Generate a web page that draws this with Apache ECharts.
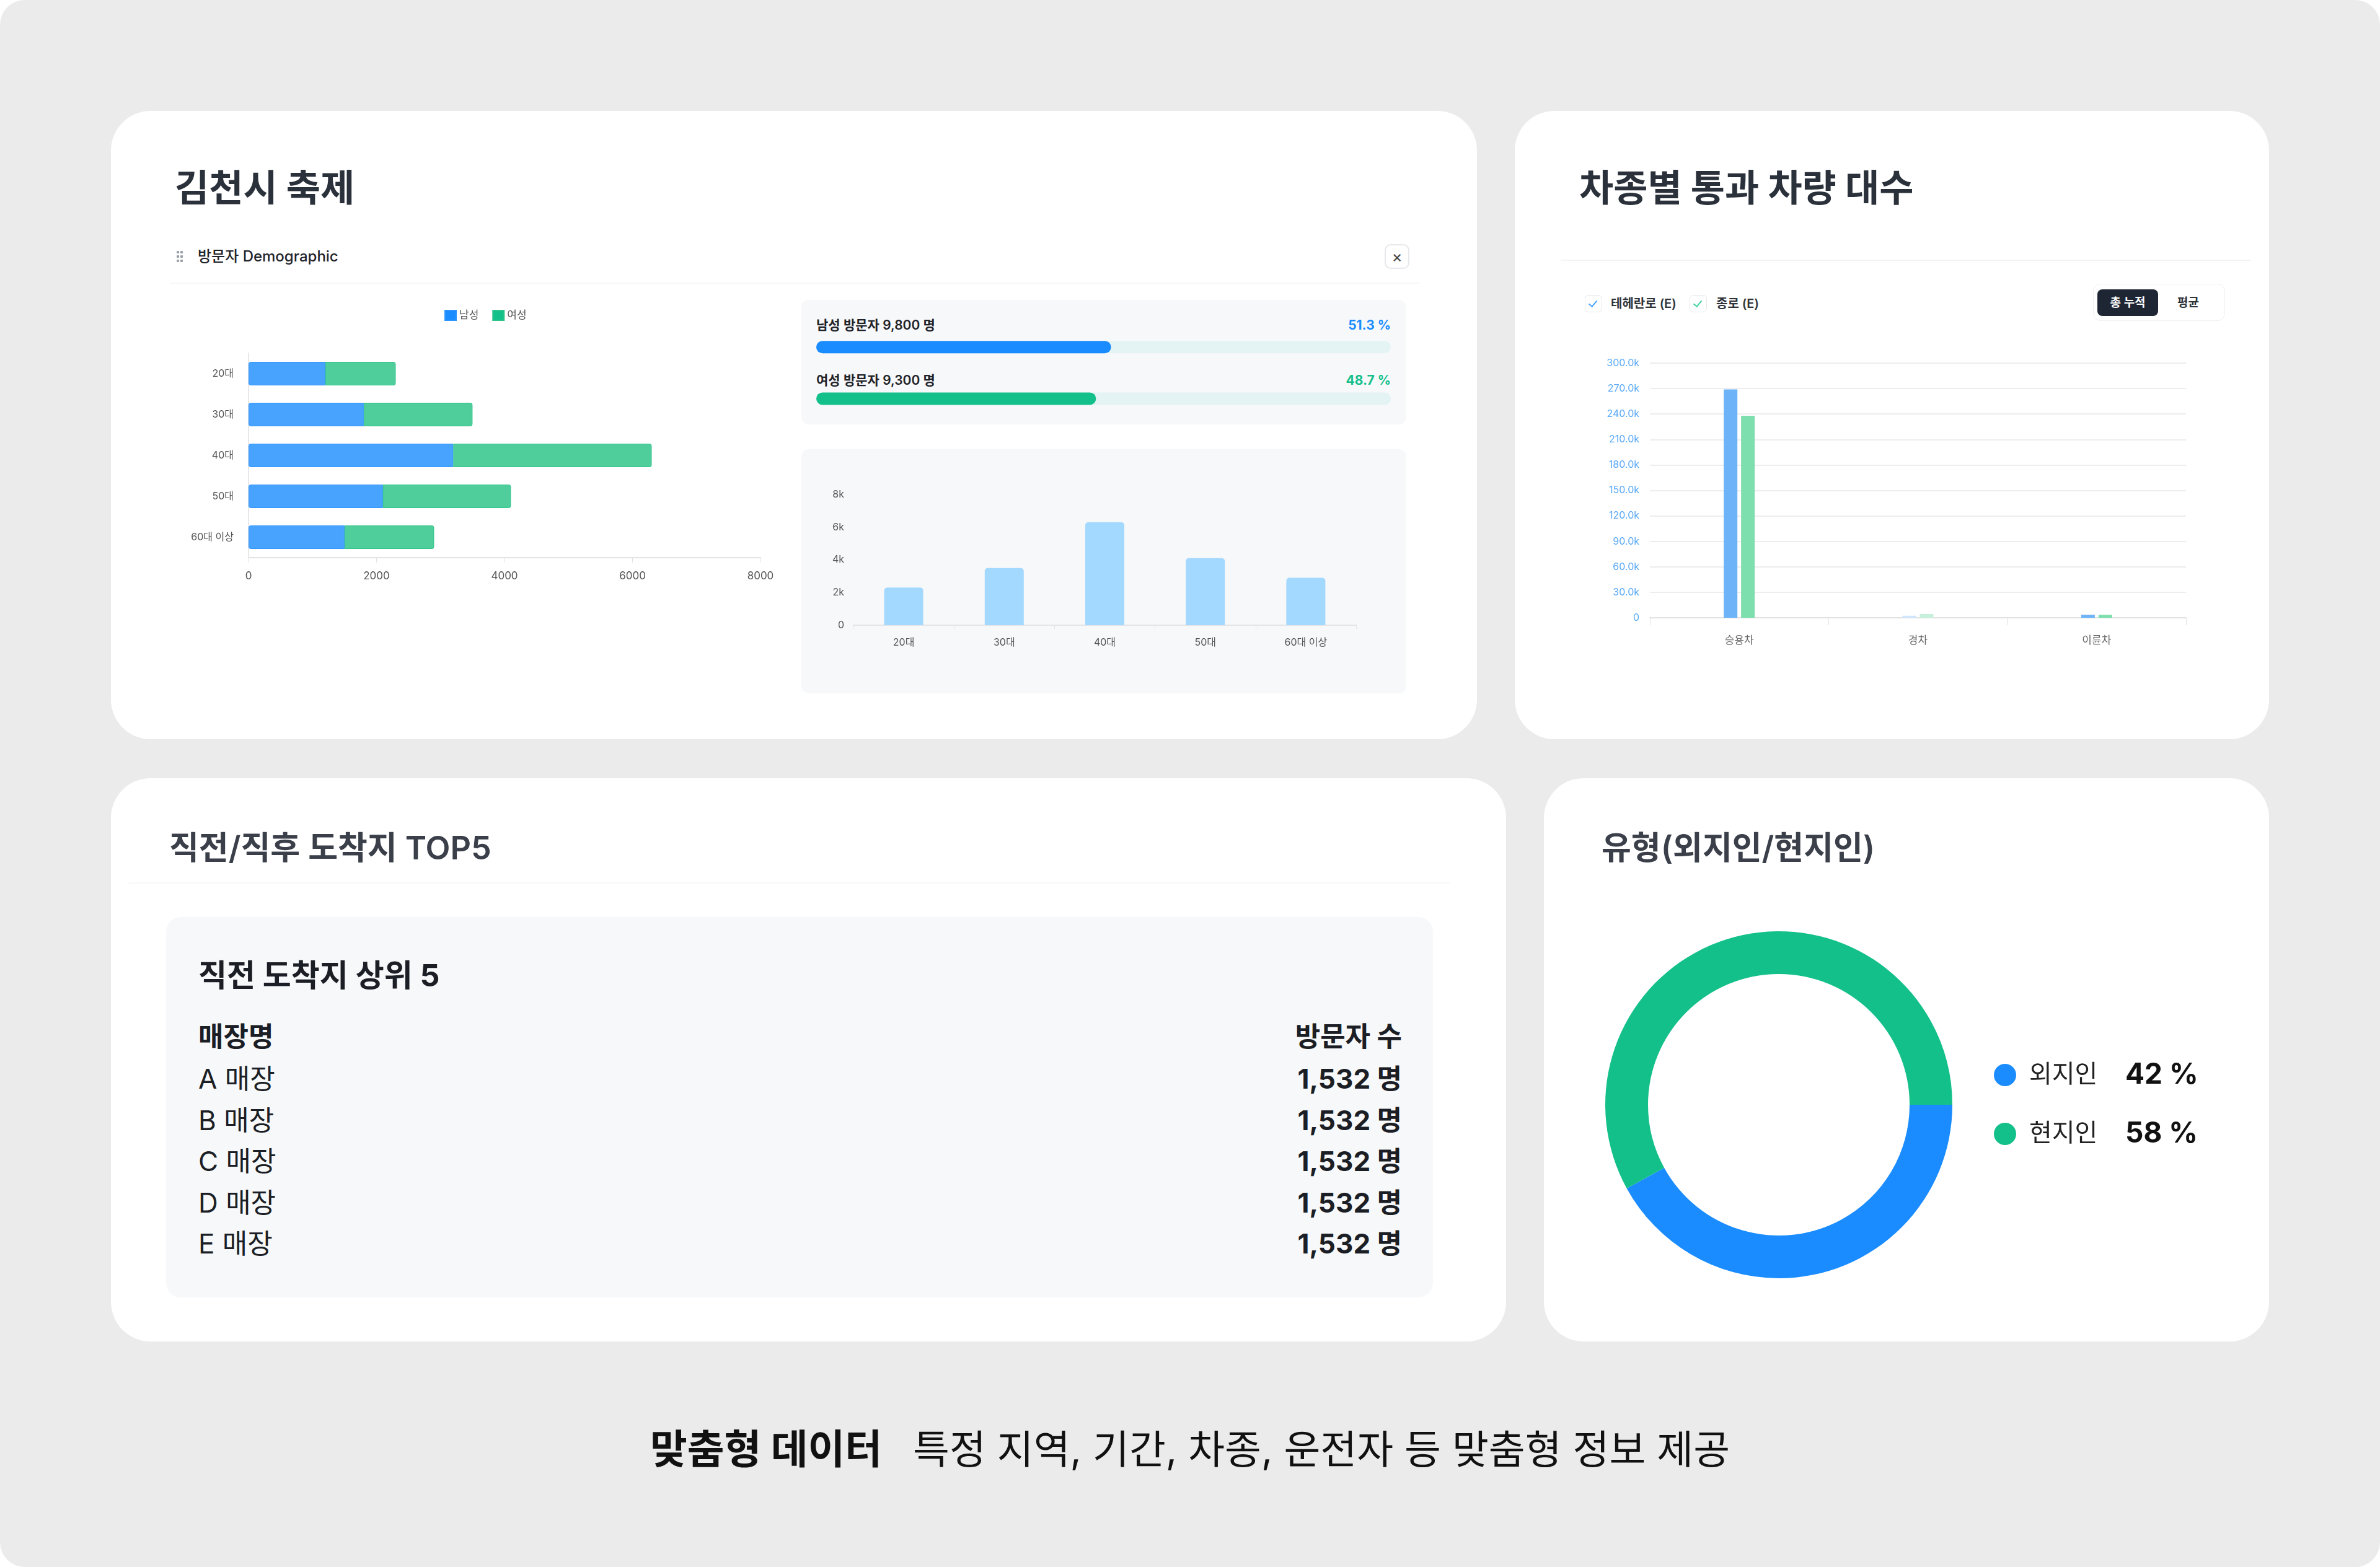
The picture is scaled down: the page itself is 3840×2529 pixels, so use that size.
<!DOCTYPE html>
<html>
<head>
<meta charset="utf-8">
<script src="https://cdn.jsdelivr.net/npm/echarts/dist/echarts.min.js"></script>
<style>
  html, body { margin:0; padding:0; background:#ffffff; }
  body { width:3840px; height:2529px; position:relative; overflow:hidden;
         font-family: Inter, "Noto Sans CJK KR", "Noto Sans", sans-serif; }
  #page { position:absolute; left:0; top:0; width:3840px; height:2529px; background:#ebebeb; border-radius:40px; }
  .card { position:absolute; background:#ffffff; border-radius:64px; }
  .panel { position:absolute; background:#f7f8fa; }
  .t { position:absolute; white-space:nowrap; line-height:1; }
  .chart { position:absolute; }
  .line { position:absolute; height:2px; background:#f7f7f8; }
  .cb { position:absolute; width:28px; height:28px; border:1.5px solid #e6e8ec; border-radius:6px; box-sizing:border-box; background:#fff; }
  .cb i { position:absolute; left:8px; top:5px; width:6px; height:11px; border-right:2.5px solid; border-bottom:2.5px solid; transform:rotate(40deg); }
  .dot { position:absolute; width:4px; height:4px; background:#9aa0a8; border-radius:1px; }
</style>
</head>
<body>
<div id="page"></div>

<!-- cards -->
<div class="card" style="left:179px; top:179px; width:2204px; height:1014px;"></div>
<div class="card" style="left:2444px; top:179px; width:1217px; height:1014px;"></div>
<div class="card" style="left:179px; top:1256px; width:2251px; height:909px;"></div>
<div class="card" style="left:2491px; top:1256px; width:1170px; height:909px;"></div>

<!-- card 1 -->
<div class="t" style="left:282px; top:273px; font-size:60px; font-weight:700; color:#2b313b;">김천시 축제</div>
<div class="dot" style="left:285px; top:405px;"></div><div class="dot" style="left:291px; top:405px;"></div>
<div class="dot" style="left:285px; top:412px;"></div><div class="dot" style="left:291px; top:412px;"></div>
<div class="dot" style="left:285px; top:419px;"></div><div class="dot" style="left:291px; top:419px;"></div>
<div class="t" style="left:319px; top:402px; font-size:24px; font-weight:500; color:#1f2329;">방문자 Demographic</div>
<div style="position:absolute; left:2234px; top:394px; width:40px; height:40px; border:2px solid #e6e8eb; border-radius:10px; box-sizing:border-box; text-align:center; line-height:35px; font-size:26px; color:#444;">×</div>
<div class="line" style="left:274px; top:456px; width:2016px;"></div>

<div class="chart" id="hbar" style="left:270px; top:480px; width:1010px; height:480px;"></div>

<div class="panel" style="left:1293px; top:484px; width:976px; height:201px; border-radius:12px;"></div>
<div class="t" id="maleLabel" style="left:1317px; top:514px; font-size:21px; font-weight:600; color:#1f2329;"></div>
<div class="t" id="malePct" style="right:1596px; top:514px; font-size:21px; font-weight:700; color:#1a8cff;"></div>
<div class="t" id="femaleLabel" style="left:1317px; top:603px; font-size:21px; font-weight:600; color:#1f2329;"></div>
<div class="t" id="femalePct" style="right:1596px; top:603px; font-size:21px; font-weight:700; color:#14c08a;"></div>
<div class="chart" id="progress" style="left:1293px; top:484px; width:976px; height:201px;"></div>

<div class="panel" style="left:1293px; top:725px; width:976px; height:394px; border-radius:12px;"></div>
<div class="chart" id="vbar" style="left:1293px; top:725px; width:976px; height:394px;"></div>

<!-- card 2 -->
<div class="t" style="left:2548px; top:273px; font-size:60px; font-weight:700; color:#2b313b;">차종별 통과 차량 대수</div>
<div class="line" style="left:2518px; top:419px; width:1114px; background:#f3f4f5;"></div>
<div class="cb" style="left:2557px; top:476px;"><i style="border-color:#4aa3ff;"></i></div>
<div class="t" style="left:2599px; top:480px; font-size:20px; font-weight:600; color:#2f343b;">테헤란로 (E)</div>
<div class="cb" style="left:2726px; top:476px;"><i style="border-color:#3fd29a;"></i></div>
<div class="t" style="left:2769px; top:480px; font-size:20px; font-weight:600; color:#2f343b;">종로 (E)</div>
<div style="position:absolute; left:3377px; top:458px; width:213px; height:60px; border:1.5px solid #eef0f2; border-radius:12px; box-sizing:border-box;"></div>
<div style="position:absolute; left:3384px; top:467px; width:98px; height:43px; background:#1f2633; border-radius:8px; color:#fff; font-size:19px; font-weight:600; line-height:43px; text-align:center;">총 누적</div>
<div class="t" style="left:3513px; top:479px; font-size:19px; font-weight:600; color:#2f343b;">평균</div>
<div class="chart" id="carbar" style="left:2520px; top:540px; width:1100px; height:540px;"></div>

<!-- card 3 -->
<div class="t" style="left:273px; top:1343px; font-size:52px; font-weight:600; color:#3a3f49;">직전/직후 도착지 TOP5</div>
<div class="line" style="left:207px; top:1424px; width:2134px; background:#f9f9fa;"></div>
<div class="panel" style="left:268px; top:1480px; width:2044px; height:614px; border-radius:24px;"></div>
<div class="t" style="left:320px; top:1549px; font-size:50px; font-weight:700; color:#1b1e24;">직전 도착지 상위 5</div>
<div id="table"></div>

<!-- card 4 -->
<div class="t" style="left:2584px; top:1343px; font-size:52px; font-weight:600; color:#3a3f49;">유형(외지인/현지인)</div>
<div class="chart" id="donut" style="left:2491px; top:1256px; width:1170px; height:909px;"></div>

<!-- footer -->
<div class="t" style="left:0; width:3840px; top:2306px; text-align:center; color:#111;">
  <span style="font-size:65px; font-weight:700;">맞춤형 데이터</span><span style="display:inline-block; width:50px;"></span><span style="font-size:64px; font-weight:400;">특정 지역, 기간, 차종, 운전자 등 맞춤형 정보 제공</span>
</div>

<script>
// ---------- DATA ----------
const ageCats = ['20대', '30대', '40대', '50대', '60대 이상'];
const maleVals = [1200, 1800, 3200, 2100, 1500];
const femaleVals = [1100, 1700, 3100, 2000, 1400];
const ageTotals = [2300, 3500, 6300, 4100, 2900];
const genderNames = ['남성', '여성'];
const hbarTicks = [0, 2000, 4000, 6000, 8000];

const carCats = ['승용차', '경차', '이륜차'];
const carSeriesNames = ['테헤란로 (E)', '종로 (E)'];
const teheranVals = [269000, 2400, 3500];
const jongroVals = [238000, 4400, 3500];

const storeNames = ['A 매장', 'B 매장', 'C 매장', 'D 매장', 'E 매장'];
const storeVisitors = [1532, 1532, 1532, 1532, 1532];

const residentTypes = ['외지인', '현지인'];
const residentVals = [42, 58];

// ---------- STYLE ----------
const FONT = 'Inter, "Noto Sans CJK KR", sans-serif';
const BLUE = '#1a8cff', GREEN = '#14c08a';
const fmt = n => n.toLocaleString('en-US');

// ---------- horizontal stacked bar ----------
const hbar = echarts.init(document.getElementById('hbar'));
hbar.setOption({
  textStyle: { fontFamily: FONT },
  animation: false,
  legend: {
    left: 442, top: 15, itemWidth: 18, itemHeight: 16, itemGap: 22, icon: 'rect',
    textStyle: { fontSize: 17, color: '#555', fontFamily: FONT },
    data: [{ name: genderNames[0], itemStyle: { color: BLUE } }, { name: genderNames[1], itemStyle: { color: GREEN } }]
  },
  grid: { left: 131, top: 90, width: 826, height: 330 },
  xAxis: {
    type: 'value', min: hbarTicks[0], max: hbarTicks[hbarTicks.length - 1], interval: hbarTicks[1] - hbarTicks[0],
    axisLine: { show: true, lineStyle: { color: '#e3e3e3', width: 2 } },
    axisTick: { show: true, length: 8, lineStyle: { color: '#e3e3e3' } },
    splitLine: { show: false },
    axisLabel: { fontSize: 17, color: '#555', margin: 21, fontFamily: FONT, formatter: v => String(v) }
  },
  yAxis: {
    type: 'category', data: ageCats, inverse: true,
    axisLine: { show: true, lineStyle: { color: '#e8e8e8', width: 2 } },
    axisTick: { show: false },
    axisLabel: { fontSize: 16, color: '#555', margin: 24, fontFamily: FONT }
  },
  series: [
    { name: genderNames[0], type: 'bar', stack: 'g', barWidth: 38, data: maleVals,
      itemStyle: { color: '#48a3ff', borderColor: '#2f95ff', borderWidth: 1, borderRadius: [3, 0, 0, 3] } },
    { name: genderNames[1], type: 'bar', stack: 'g', barWidth: 38, data: femaleVals,
      itemStyle: { color: '#4fce9c', borderColor: '#2cc488', borderWidth: 1, borderRadius: [0, 3, 3, 0] } }
  ]
});

// ---------- gender progress bars ----------
const maleTotal = maleVals.reduce((a, b) => a + b, 0);
const femaleTotal = femaleVals.reduce((a, b) => a + b, 0);
const allTotal = maleTotal + femaleTotal;
const genderPct = [maleTotal / allTotal * 100, femaleTotal / allTotal * 100];
document.getElementById('maleLabel').textContent = `${genderNames[0]} 방문자 ${fmt(maleTotal)} 명`;
document.getElementById('femaleLabel').textContent = `${genderNames[1]} 방문자 ${fmt(femaleTotal)} 명`;
document.getElementById('malePct').textContent = `${genderPct[0].toFixed(1)} %`;
document.getElementById('femalePct').textContent = `${genderPct[1].toFixed(1)} %`;

const progress = echarts.init(document.getElementById('progress'));
progress.setOption({
  animation: false,
  grid: { left: 24, top: 34.5, width: 927, height: 178 },
  xAxis: { type: 'value', min: 0, max: 100, show: false },
  yAxis: { type: 'category', data: genderNames, inverse: true, show: false },
  series: [{
    type: 'bar', barWidth: 20, data: genderPct,
    showBackground: true, backgroundStyle: { color: '#e4f3f3', borderRadius: 10 },
    itemStyle: { borderRadius: 10, color: p => (p.dataIndex === 0 ? BLUE : GREEN) }
  }]
});

// ---------- vertical bar (totals by age) ----------
const vbar = echarts.init(document.getElementById('vbar'));
vbar.setOption({
  animation: false,
  textStyle: { fontFamily: FONT },
  grid: { left: 84, top: 73, width: 811, height: 211 },
  xAxis: {
    type: 'category', data: ageCats,
    axisLine: { lineStyle: { color: '#e3e5e8', width: 2 } },
    axisTick: { show: true, length: 6, lineStyle: { color: '#e3e5e8' } },
    axisLabel: { fontSize: 16, color: '#555', margin: 20, fontFamily: FONT }
  },
  yAxis: {
    type: 'value', min: 0, max: 8000, interval: 2000,
    axisLine: { show: false }, axisTick: { show: false }, splitLine: { show: false },
    axisLabel: { fontSize: 16, color: '#555', margin: 15, fontFamily: FONT, formatter: v => (v === 0 ? '0' : v / 1000 + 'k') }
  },
  series: [{ type: 'bar', barWidth: 63, data: ageTotals, itemStyle: { color: '#a3d8ff', borderRadius: [5, 5, 0, 0] } }]
});

// ---------- car type bar ----------
const carbar = echarts.init(document.getElementById('carbar'));
const carColor = (base, faint) => p => (p.dataIndex === 1 ? faint : base);
carbar.setOption({
  animation: false,
  textStyle: { fontFamily: FONT },
  grid: { left: 142, top: 46, width: 865, height: 411 },
  xAxis: {
    type: 'category', data: carCats,
    axisLine: { lineStyle: { color: '#e2e2e2', width: 2 } },
    axisTick: { show: true, length: 12, lineStyle: { color: '#e2e2e2' } },
    axisLabel: { fontSize: 17, color: '#666', margin: 28, fontFamily: FONT }
  },
  yAxis: {
    type: 'value', min: 0, max: 300000, interval: 30000,
    axisLine: { show: false }, axisTick: { show: false },
    splitLine: { lineStyle: { color: '#ededed', width: 2 } },
    axisLabel: { fontSize: 16, color: '#5aa9f6', margin: 17, fontFamily: FONT,
      formatter: v => (v === 0 ? '0' : (v / 1000).toFixed(1) + 'k') }
  },
  series: [
    { name: carSeriesNames[0], type: 'bar', barWidth: 22, barGap: '27%', data: teheranVals,
      itemStyle: { color: carColor('#6db3f8', '#cfe6fc') } },
    { name: carSeriesNames[1], type: 'bar', barWidth: 22, data: jongroVals,
      itemStyle: { color: carColor('#7ddfae', '#c6f0dc') } }
  ]
});

// ---------- table ----------
(function () {
  const host = document.getElementById('table');
  const rowCenters = [1741, 1807.5, 1874, 1940.5, 2007];
  const FS = 44;
  let html = '';
  html += `<div class="t" style="left:320px; top:${1673 - FS / 2}px; font-size:${FS}px; font-weight:700; color:#1b1e24;">매장명</div>`;
  html += `<div class="t" style="right:1578px; top:${1673 - FS / 2}px; font-size:${FS}px; font-weight:700; color:#1b1e24;">방문자 수</div>`;
  storeNames.forEach((n, i) => {
    const top = rowCenters[i] - FS / 2;
    html += `<div class="t" style="left:320px; top:${top}px; font-size:${FS}px; font-weight:400; color:#1b1e24;">${n}</div>`;
    html += `<div class="t" style="right:1578px; top:${top}px; font-size:${FS}px; font-weight:700; color:#1b1e24;">${fmt(storeVisitors[i])} 명</div>`;
  });
  host.innerHTML = html;
})();

// ---------- donut ----------
const donut = echarts.init(document.getElementById('donut'));
const residentSum = residentVals.reduce((a, b) => a + b, 0);
donut.setOption({
  animation: false,
  color: [BLUE, GREEN],
  legend: {
    orient: 'vertical', left: 721, top: 451, icon: 'circle', itemWidth: 36, itemHeight: 36, itemGap: 49,
    data: residentTypes,
    formatter: name => {
      const i = residentTypes.indexOf(name);
      return `{n|${name}}{v|${Math.round(residentVals[i] / residentSum * 100)} %}`;
    },
    textStyle: {
      fontFamily: FONT,
      rich: {
        n: { fontSize: 40, color: '#222', width: 155, padding: [0, 0, 0, 16], fontFamily: FONT },
        v: { fontSize: 46, color: '#111', fontWeight: 'bold', fontFamily: FONT }
      }
    }
  },
  series: [{
    type: 'pie', center: [379, 527], radius: [211, 280], startAngle: 0, clockwise: true,
    label: { show: false }, labelLine: { show: false }, silent: true,
    data: residentTypes.map((n, i) => ({ name: n, value: residentVals[i] }))
  }]
});
</script>
</body>
</html>
